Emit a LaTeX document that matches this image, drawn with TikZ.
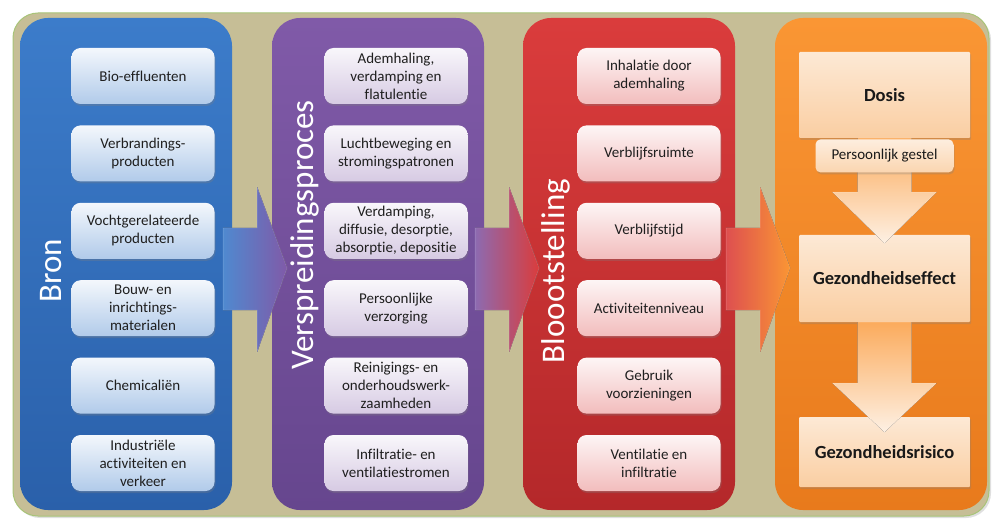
\documentclass[tikz,border=0pt]{standalone}
\usepackage{fontspec}
\setmainfont{Carlito}[Ligatures=NoCommon]
\usetikzlibrary{positioning, calc, shadows}

\definecolor{kaki}{RGB}{198,190,150}
\definecolor{kaderrand}{RGB}{168,196,120}
\definecolor{blauw}{RGB}{60,124,202}
\definecolor{blauwdonker}{RGB}{42,96,170}
\definecolor{paars}{RGB}{128,90,168}
\definecolor{paarsdonker}{RGB}{102,70,142}
\definecolor{rood}{RGB}{218,60,60}
\definecolor{rooddonker}{RGB}{180,40,42}
\definecolor{oranje}{RGB}{250,150,52}
\definecolor{oranjedonker}{RGB}{232,122,28}
\definecolor{perzik}{RGB}{250,206,162}

\begin{document}
\begin{tikzpicture}[x=1pt, y=-1pt,
    kolom/.style={minimum width=212pt, minimum height=492pt, rounded corners=28pt, inner sep=0pt},
    blok/.style={minimum width=143pt, minimum height=56pt, rounded corners=9pt, align=center, inner sep=2pt,
      font=\fontsize{15}{18}\selectfont, text=black!88,
      drop shadow={opacity=0.3, shadow xshift=1pt, shadow yshift=-2pt}},
    blauwblok/.style={blok, top color=blauw!6!white, bottom color=blauw!40!white},
    paarsblok/.style={blok, top color=paars!5!white, bottom color=paars!32!white},
    roodblok/.style={blok, top color=rood!5!white, bottom color=rood!34!white},
    titel/.style={rotate=90, text=white, font=\fontsize{33}{40}\selectfont},
    effect/.style={minimum width=171pt, align=center, rounded corners=1pt, text=black!90,
      font=\bfseries\fontsize{18.5}{22}\selectfont, top color=perzik!45!white, bottom color=perzik,
      drop shadow={opacity=0.3, shadow xshift=1pt, shadow yshift=-2pt}},
    pijl/.style={draw=white, draw opacity=0.25, line width=0.5pt}
  ]
    \useasboundingbox (0,0) rectangle (992,521);

    % Background
    \draw[kaderrand, fill=kaki, line width=1pt, rounded corners=25pt,
      drop shadow={opacity=0.25, shadow xshift=2pt, shadow yshift=-2pt}] (13,13) rectangle (989,516);

    % Columns
    \node[kolom, top color=blauw, bottom color=blauwdonker] (bron) at (126,264) {};
    \node[kolom, top color=paars, bottom color=paarsdonker] (versp) at (378,264) {};
    \node[kolom, top color=rood, bottom color=rooddonker] (bloot) at (629,264) {};
    \node[kolom, top color=oranje, bottom color=oranjedonker] (gevolg) at (881,264) {};

    % Column titles
    \node[titel] at (51,271) {Bron};
    \node[titel] at (305,235) {Verspreidingsproces};
    \node[titel] at (556,271) {Bloootstelling};

    % Bron
    \node[blauwblok] (b1) at (143,76) {Bio-effluenten};
    \node[blauwblok, below=21pt of b1] (b2) {Verbrandings-\\producten};
    \node[blauwblok, below=21pt of b2] (b3) {Vochtgerelateerde\\producten};
    \node[blauwblok, below=21pt of b3] (b4) {Bouw- en\\inrichtings-\\materialen};
    \node[blauwblok, below=21pt of b4] (b5) {Chemicaliën};
    \node[blauwblok, below=21pt of b5] (b6) {Industriële\\activiteiten en\\verkeer};

    % Verspreidingsproces
    \node[paarsblok] (v1) at (396,76) {Ademhaling,\\verdamping en\\flatulentie};
    \node[paarsblok, below=21pt of v1] (v2) {Luchtbeweging en\\stromingspatronen};
    \node[paarsblok, below=21pt of v2] (v3) {Verdamping,\\diffusie, desorptie,\\absorptie, depositie};
    \node[paarsblok, below=21pt of v3] (v4) {Persoonlijke\\verzorging};
    \node[paarsblok, below=21pt of v4] (v5) {Reinigings- en\\onderhoudswerk-\\zaamheden};
    \node[paarsblok, below=21pt of v5] (v6) {Infiltratie- en\\ventilatiestromen};

    % Blootstelling
    \node[roodblok] (s1) at (649,76) {Inhalatie door\\ademhaling};
    \node[roodblok, below=21pt of s1] (s2) {Verblijfsruimte};
    \node[roodblok, below=21pt of s2] (s3) {Verblijfstijd};
    \node[roodblok, below=21pt of s3] (s4) {Activiteitenniveau};
    \node[roodblok, below=21pt of s4] (s5) {Gebruik\\voorzieningen};
    \node[roodblok, below=21pt of s5] (s6) {Ventilatie en\\infiltratie};

    % Arrows between columns
    \fill[pijl, left color=blauw!90!white, right color=paars] ($(bron.east)+(-9,-36)$) -- ++(34,0) -- ++(0,-41)
      -- ($(bron.east)+(55,4)$) -- ($(bron.east)+(25,88)$) -- ++(0,-42) -- ++(-34,0) -- cycle;
    \fill[pijl, left color=paars!90!white, right color=rood] ($(versp.east)+(-9,-36)$) -- ++(34,0) -- ++(0,-41)
      -- ($(versp.east)+(55,4)$) -- ($(versp.east)+(25,88)$) -- ++(0,-42) -- ++(-34,0) -- cycle;
    \fill[pijl, left color=rood!90!white, right color=oranje] ($(bloot.east)+(-9,-36)$) -- ++(34,0) -- ++(0,-41)
      -- ($(bloot.east)+(55,4)$) -- ($(bloot.east)+(25,88)$) -- ++(0,-42) -- ++(-34,0) -- cycle;

    % Gevolgen
    \node[effect, minimum height=86pt] (dosis) at (884.5,95) {Dosis};
    \node[effect, minimum height=87pt] (effect) at (884.5,278.5) {Gezondheidseffect};
    \node[effect, minimum height=70pt] (risico) at (884.5,452) {Gezondheidsrisico};

    % Arrows down
    \fill[pijl, top color=oranje!80!white, bottom color=perzik!30!white] ($(dosis.south)+(-27,0)$) -- ++(54,0) -- ++(0,54)
      -- ++(25,0) -- ($(dosis.south)+(0,105)$) -- ($(dosis.south)+(-52,54)$) -- ++(25,0) -- cycle;
    \fill[pijl, top color=oranje!80!white, bottom color=perzik!30!white] ($(effect.south)+(-27,0)$) -- ++(54,0) -- ++(0,61)
      -- ++(25,0) -- ($(effect.south)+(0,110)$) -- ($(effect.south)+(-52,61)$) -- ++(25,0) -- cycle;

    \node[effect, below=1pt of dosis, minimum width=138pt, minimum height=33pt, rounded corners=5pt,
      font=\fontsize{15}{18}\selectfont, top color=perzik!35!white, bottom color=perzik!85!white] (gestel) {Persoonlijk gestel};
\end{tikzpicture}
\end{document}
